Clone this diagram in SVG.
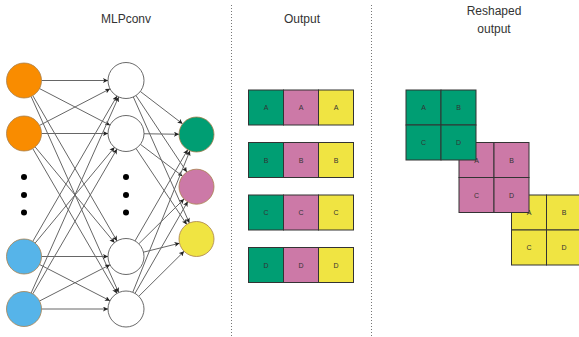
<svg xmlns="http://www.w3.org/2000/svg" width="579" height="337" viewBox="0 0 579 337">
<defs>
<marker id="ah" viewBox="0 0 10 10" refX="10" refY="5" markerWidth="5" markerHeight="5" markerUnits="userSpaceOnUse" orient="auto">
<path d="M0,0 L10,5 L0,10 L2.5,5 z" fill="#222"/>
</marker>
<style>
.t{font-family:"Liberation Sans",Arial,sans-serif;font-size:12px;fill:#333;text-anchor:middle}
.c{font-family:"Liberation Sans",Arial,sans-serif;font-size:7px;fill:#333;text-anchor:middle;dominant-baseline:central}
.e line{stroke:#666;stroke-width:1;marker-end:url(#ah)}
.in{stroke:#a8804c;stroke-width:0.8}
.hid{fill:#fff;stroke:#444;stroke-width:0.8}
.out{stroke:#a8804c;stroke-width:0.8}
.cell{stroke:#333;stroke-width:1}
.g{fill:#009E73}.p{fill:#CC79A7}.y{fill:#F0E442}
.dv{stroke:#777;stroke-width:1;stroke-dasharray:1 2}
.dot{fill:#000}
</style>
</defs>
<rect width="579" height="337" fill="#fff"/>
<line class="dv" x1="231.5" y1="5" x2="231.5" y2="337"/>
<line class="dv" x1="371.5" y1="5" x2="371.5" y2="337"/>
<text class="t" x="126" y="23">MLPconv</text>
<text class="t" x="302" y="23">Output</text>
<text class="t" x="494" y="15">Reshaped</text>
<text class="t" x="494" y="33">output</text>
<g id="connectors" class="e">
<line x1="41.5" y1="80.5" x2="108" y2="80.5"/>
<line x1="39.53" y1="88.57" x2="110.03" y2="125.2"/>
<line x1="32.77" y1="95.64" x2="116.97" y2="240.93"/>
<line x1="31.13" y1="96.48" x2="118.66" y2="292.56"/>
<line x1="39.53" y1="125.43" x2="110.03" y2="88.8"/>
<line x1="41.5" y1="133.5" x2="108" y2="133.5"/>
<line x1="35.17" y1="146.97" x2="114.51" y2="242.64"/>
<line x1="32.79" y1="148.63" x2="116.96" y2="293.44"/>
<line x1="32.77" y1="241.36" x2="116.97" y2="96.07"/>
<line x1="35.17" y1="243.03" x2="114.51" y2="147.36"/>
<line x1="41.5" y1="256.5" x2="108" y2="256.5"/>
<line x1="39.56" y1="264.51" x2="110" y2="300.76"/>
<line x1="31.13" y1="293.02" x2="118.66" y2="96.94"/>
<line x1="32.79" y1="293.87" x2="116.96" y2="149.06"/>
<line x1="39.56" y1="300.99" x2="110" y2="264.74"/>
<line x1="41.5" y1="309" x2="108" y2="309"/>
<line x1="140.29" y1="91.44" x2="182.61" y2="123.86"/>
<line x1="135.96" y1="95.5" x2="186.82" y2="172.12"/>
<line x1="133.32" y1="96.95" x2="189.39" y2="223.01"/>
<line x1="144" y1="133.76" x2="179" y2="134.25"/>
<line x1="140.37" y1="144.34" x2="182.53" y2="176.16"/>
<line x1="136" y1="148.47" x2="186.78" y2="224.45"/>
<line x1="135.01" y1="240.92" x2="187.74" y2="149.65"/>
<line x1="138.79" y1="243.84" x2="184.06" y2="199.01"/>
<line x1="143.47" y1="252.16" x2="179.52" y2="243.22"/>
<line x1="132.74" y1="292.31" x2="189.94" y2="150.73"/>
<line x1="134.99" y1="293.41" x2="187.76" y2="201.54"/>
<line x1="138.77" y1="296.32" x2="184.08" y2="251.33"/>
</g>
<g id="in1"><circle class="in" cx="24" cy="80.5" r="17.5" fill="#F98C00"/></g>
<g id="in2"><circle class="in" cx="24" cy="133.5" r="17.5" fill="#F98C00"/></g>
<g id="in-dots"><circle class="dot" cx="24" cy="177" r="3"/><circle class="dot" cx="24" cy="195" r="3"/><circle class="dot" cx="24" cy="212.5" r="3"/></g>
<g id="in3"><circle class="in" cx="24" cy="256.5" r="17.5" fill="#56B4E9"/></g>
<g id="in4"><circle class="in" cx="24" cy="309" r="17.5" fill="#56B4E9"/></g>
<g id="h1"><circle class="hid" cx="126" cy="80.5" r="18"/></g>
<g id="h2"><circle class="hid" cx="126" cy="133.5" r="18"/></g>
<g id="h-dots"><circle class="dot" cx="126" cy="177" r="3"/><circle class="dot" cx="126" cy="195" r="3"/><circle class="dot" cx="126" cy="212.5" r="3"/></g>
<g id="h3"><circle class="hid" cx="126" cy="256.5" r="18"/></g>
<g id="h4"><circle class="hid" cx="126" cy="309" r="18"/></g>
<g id="o1"><circle class="out g" cx="196.5" cy="134.5" r="17.5"/></g>
<g id="o2"><circle class="out p" cx="196.5" cy="186.7" r="17.5"/></g>
<g id="o3"><circle class="out y" cx="196.5" cy="239" r="17.5"/></g>
<g id="rowA">
<rect class="cell g" x="248.5" y="90" width="35" height="35"/><rect class="cell p" x="283.5" y="90" width="35" height="35"/><rect class="cell y" x="318.5" y="90" width="35" height="35"/>
<text class="c" x="266" y="107.5">A</text><text class="c" x="301" y="107.5">A</text><text class="c" x="336" y="107.5">A</text>
</g>
<g id="rowB">
<rect class="cell g" x="248.5" y="142.5" width="35" height="35"/><rect class="cell p" x="283.5" y="142.5" width="35" height="35"/><rect class="cell y" x="318.5" y="142.5" width="35" height="35"/>
<text class="c" x="266" y="160">B</text><text class="c" x="301" y="160">B</text><text class="c" x="336" y="160">B</text>
</g>
<g id="rowC">
<rect class="cell g" x="248.5" y="195" width="35" height="35"/><rect class="cell p" x="283.5" y="195" width="35" height="35"/><rect class="cell y" x="318.5" y="195" width="35" height="35"/>
<text class="c" x="266" y="212.5">C</text><text class="c" x="301" y="212.5">C</text><text class="c" x="336" y="212.5">C</text>
</g>
<g id="rowD">
<rect class="cell g" x="248.5" y="247.5" width="35" height="35"/><rect class="cell p" x="283.5" y="247.5" width="35" height="35"/><rect class="cell y" x="318.5" y="247.5" width="35" height="35"/>
<text class="c" x="266" y="265">D</text><text class="c" x="301" y="265">D</text><text class="c" x="336" y="265">D</text>
</g>
<g id="sqY">
<rect class="cell y" x="511.5" y="195" width="35" height="35"/><rect class="cell y" x="546.5" y="195" width="35" height="35"/>
<rect class="cell y" x="511.5" y="230" width="35" height="35"/><rect class="cell y" x="546.5" y="230" width="35" height="35"/>
<text class="c" x="529" y="212.5">A</text><text class="c" x="564" y="212.5">B</text>
<text class="c" x="529" y="247.5">C</text><text class="c" x="564" y="247.5">D</text>
</g>
<g id="sqP">
<rect class="cell p" x="459" y="142.5" width="35" height="35"/><rect class="cell p" x="494" y="142.5" width="35" height="35"/>
<rect class="cell p" x="459" y="177.5" width="35" height="35"/><rect class="cell p" x="494" y="177.5" width="35" height="35"/>
<text class="c" x="476.5" y="160">A</text><text class="c" x="511.5" y="160">B</text>
<text class="c" x="476.5" y="195">C</text><text class="c" x="511.5" y="195">D</text>
</g>
<g id="sqG">
<rect class="cell g" x="406" y="90" width="35" height="35"/><rect class="cell g" x="441" y="90" width="35" height="35"/>
<rect class="cell g" x="406" y="125" width="35" height="35"/><rect class="cell g" x="441" y="125" width="35" height="35"/>
<text class="c" x="423.5" y="107.5">A</text><text class="c" x="458.5" y="107.5">B</text>
<text class="c" x="423.5" y="142.5">C</text><text class="c" x="458.5" y="142.5">D</text>
</g>
</svg>
